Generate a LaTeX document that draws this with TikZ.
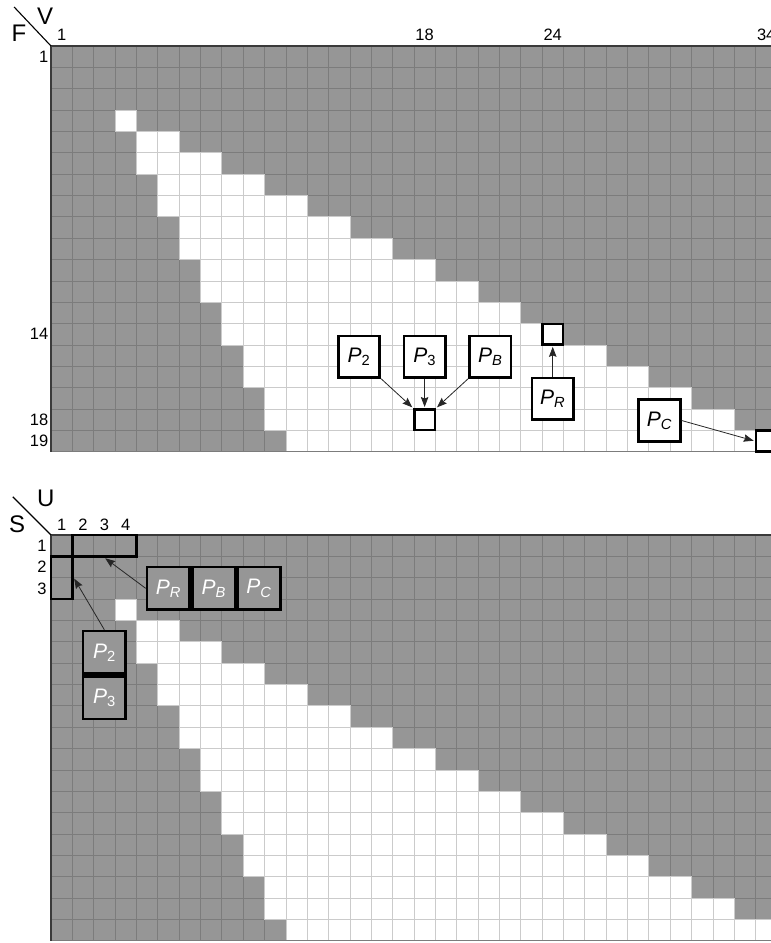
\documentclass[tikz,border=0pt]{standalone}
\usepackage{fontspec}
\setmainfont{Liberation Sans}
\usetikzlibrary{arrows.meta,positioning}
\definecolor{CellGray}{HTML}{969696}
\definecolor{LineDark}{HTML}{7C7C7C}
\definecolor{LineLight}{HTML}{CBCBCB}
\definecolor{EdgeGray}{HTML}{3A3A3A}

\newcommand{\plab}[1]{\textit{P}\textsubscript{#1}}
% 19 x 34 map, white band between the two staircases
\newcommand{\mapgrid}{%
  \fill[CellGray] (0,0) rectangle (34,19);
  \foreach \c in {1,...,33} \draw[darkline] (\c,0) -- (\c,19);
  \foreach \r in {1,...,18} \draw[darkline] (0,\r) -- (34,\r);
  \foreach \r in {4,...,19}{
    \pgfmathtruncatemacro{\lo}{(\r+1)/2+2}
    \pgfmathtruncatemacro{\hi}{2*\r-4}
    \foreach \c in {\lo,...,\hi} \draw[whitecell] (\c-1,\r-1) rectangle (\c,\r);
  }
  \draw[darkline] (0,19) -- (34,19);
  \draw[line width=1.2pt,EdgeGray] (0,19) -- (0,0) -- (34,0);
}

\begin{document}
\begin{tikzpicture}[
  x=21.35pt,y=-21.35pt,
  every node/.style={inner sep=0pt},
  darkline/.style={LineDark,line width=0.7pt},
  whitecell/.style={fill=white,draw=LineLight,line width=0.7pt},
  tick/.style={font=\fontsize{16.5}{18}\selectfont},
  axis/.style={font=\fontsize{24}{26}\selectfont},
  pbox/.style={draw=black,line width=2.6pt,fill=white,minimum size=41.5pt,font=\fontsize{21}{24}\selectfont},
  pgray/.style={pbox,fill=CellGray,text=white,minimum size=42.7pt},
  target/.style={draw=black,line width=2.6pt,fill=white,minimum size=20.6pt},
  sel/.style={draw=black,line width=2.6pt},
  arrow/.style={-{Stealth[length=10pt,width=7.5pt,inset=1.5pt]},line width=0.8pt,color=black!85,shorten >=1pt}
]
\useasboundingbox (-2.389,-2.155) rectangle (33.724,42.014);
\clip (-2.389,-2.155) rectangle (33.724,42.014);

% upper map: F against V
\mapgrid
\coordinate (fvtip) at (-1.73,-1.83);
\draw[line width=1.1pt] (fvtip) -- (0,0);
\node[axis] (flab) at (-1.5,-0.585) {F};
\node[axis] (vlab) at (-0.28,-1.405) {V};
\foreach \c in {1,18,24,34} \node[tick] (v\c) at (\c-0.5,-0.52) {\c};
\foreach \r in {1,14,18,19} \node[tick,anchor=east] (f\r) at (-0.12,\r-0.5) {\r};

\node[target] (t18) at (17.5,17.5) {};
\node[target] (t24) at (23.5,13.5) {};
\node[target] (t34) at (33.5,18.5) {};
\node[pbox] (p3) at (17.5,14.55) {\plab{3}};
\node[pbox,left=21.5pt of p3] (p2) {\plab{2}};
\node[pbox,right=21.5pt of p3] (pb) {\plab{\textit{B}}};
\node[pbox] (pr) at (23.5,16.53) {\plab{\textit{R}}};
\node[pbox] (pc) at (28.5,17.54) {\plab{\textit{C}}};
\draw[arrow] (p2.south east) -- (t18.north west);
\draw[arrow] (p3.south) -- (t18.north);
\draw[arrow] (pb.south west) -- (t18.north east);
\draw[arrow] (pr.north) -- (t24.south);
\draw[arrow] (pc.east) -- (t34.west);

% lower map: S against U
\begin{scope}[shift={(0,22.904)}]
  \mapgrid
  \coordinate (sutip) at (-1.79,-1.79);
  \draw[line width=1.1pt] (sutip) -- (0,0);
  \node[axis] (slab) at (-1.59,-0.52) {S};
  \node[axis] (ulab) at (-0.25,-1.73) {U};
  \foreach \c in {1,...,4} \node[tick] (u\c) at (\c-0.5,-0.47) {\c};
  \foreach \r in {1,2,3} \node[tick,anchor=east] (s\r) at (-0.2,\r-0.5) {\r};
  \node[sel,minimum width=64.05pt,minimum height=21.35pt] (urow) at (2.5,0.5) {};
  \node[sel,minimum width=21.35pt,minimum height=42.7pt] (ucol) at (0.5,2) {};
  \node[pgray] (qr) at (5.5,2.5) {\plab{\textit{R}}};
  \node[pgray,right=0pt of qr] (qb) {\plab{\textit{B}}};
  \node[pgray,right=0pt of qb] (qc) {\plab{\textit{C}}};
  \node[pgray] (q2) at (2.5,5.5) {\plab{2}};
  \node[pgray,below=0pt of q2] (q3) {\plab{3}};
  \draw[arrow] (qr.west) -- (urow.south);
  \draw[arrow] (q2.north) -- (ucol.east);
\end{scope}
\end{tikzpicture}
\end{document}
